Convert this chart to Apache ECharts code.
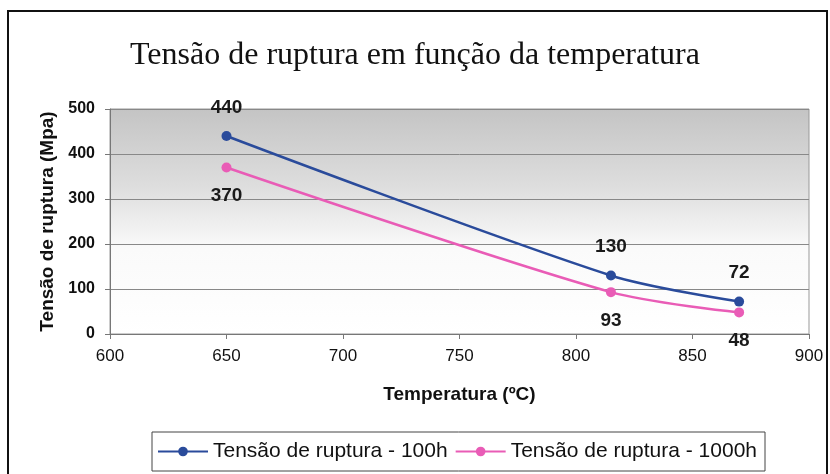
<!DOCTYPE html>
<html>
<head>
<meta charset="utf-8">
<script src="https://cdn.jsdelivr.net/npm/echarts@6/dist/echarts.min.js"></script>
<style>
    html, body { margin: 0; padding: 0; background: #fff; }
</style>
</head>
<body>
<div id="main" style="width: 830px;height:474px;"></div>
<script type="text/javascript">
    // dados
    var temperaturas = [650, 815, 870];
    var tensao100h = [440, 130, 72];
    var tensao1000h = [370, 93, 48];
    var nomes = ['Tensão de ruptura - 100h', 'Tensão de ruptura - 1000h'];

    function pares(xs, ys) {
        return xs.map(function (x, i) { return [x, ys[i]]; });
    }

    var myChart = echarts.init(document.getElementById('main'));

    var fonte = 'Liberation Sans, Arial, sans-serif';

    var labelStyle = {
        show: true,
        fontFamily: fonte,
        fontSize: 19,
        fontWeight: 'bold',
        color: '#1a1a1a',
        distance: 14
    };

    var option = {
        animation: false,
        backgroundColor: '#fff',
        title: {
            text: 'Tensão de ruptura em função da temperatura',
            left: 'center',
            top: 35,
            textStyle: {
                fontFamily: 'Liberation Serif, Times New Roman, serif',
                fontSize: 32,
                fontWeight: 'normal',
                color: '#111'
            }
        },
        graphic: [{
            type: 'rect',
            shape: { x: 8, y: 11, width: 819, height: 470 },
            style: { fill: 'none', stroke: '#111', lineWidth: 2 },
            silent: true
        }],
        grid: {
            left: 110,
            right: 21,
            top: 109,
            bottom: 140,
            show: true,
            borderColor: '#999',
            borderWidth: 1,
            backgroundColor: {
                type: 'linear', x: 0, y: 0, x2: 0, y2: 1,
                colorStops: [
                    { offset: 0, color: '#c4c4c4' },
                    { offset: 0.35, color: '#dedede' },
                    { offset: 0.62, color: '#fafafa' },
                    { offset: 1, color: '#ffffff' }
                ]
            }
        },
        legend: {
            data: nomes,
            left: 152,
            top: 432,
            padding: [9, 8, 9, 5],
            itemGap: 7,
            itemWidth: 50,
            itemHeight: 12,
            borderColor: '#444',
            borderWidth: 1,
            textStyle: {
                fontFamily: fonte,
                fontSize: 21,
                color: '#111'
            }
        },
        xAxis: {
            type: 'value',
            min: 600,
            max: 900,
            interval: 50,
            name: 'Temperatura (ºC)',
            nameLocation: 'middle',
            nameGap: 51,
            nameTextStyle: {
                fontFamily: fonte,
                fontSize: 19,
                fontWeight: 'bold',
                color: '#111'
            },
            axisLine: { lineStyle: { color: '#777', width: 1 } },
            axisTick: { show: true, length: 5, inside: false, lineStyle: { color: '#777' } },
            axisLabel: {
                margin: 14,
                fontFamily: fonte,
                fontSize: 17,
                color: '#111'
            },
            splitLine: { show: false }
        },
        yAxis: {
            type: 'value',
            min: 0,
            max: 500,
            interval: 100,
            name: 'Tensão de ruptura (Mpa)',
            nameLocation: 'middle',
            nameGap: 53,
            nameTextStyle: {
                fontFamily: fonte,
                fontSize: 19,
                fontWeight: 'bold',
                color: '#111'
            },
            axisLine: { show: true, lineStyle: { color: '#777', width: 1 } },
            axisTick: { show: true, length: 5, lineStyle: { color: '#777' } },
            axisLabel: {
                margin: 15,
                fontFamily: fonte,
                fontSize: 16,
                fontWeight: 'bold',
                color: '#111'
            },
            splitLine: { show: true, lineStyle: { color: '#888', width: 1 } }
        },
        series: [
            {
                name: nomes[0],
                type: 'line',
                smooth: 0.3,
                data: pares(temperaturas, tensao100h),
                symbol: 'circle',
                symbolSize: 10,
                itemStyle: { color: '#2a4b9b' },
                lineStyle: { color: '#2a4b9b', width: 2.5 },
                label: Object.assign({ position: 'top', formatter: function (p) { return p.value[1]; } }, labelStyle)
            },
            {
                name: nomes[1],
                type: 'line',
                smooth: 0.3,
                data: pares(temperaturas, tensao1000h),
                symbol: 'circle',
                symbolSize: 10,
                itemStyle: { color: '#e95cb6' },
                lineStyle: { color: '#e95cb6', width: 2.5 },
                label: Object.assign({ position: 'bottom', formatter: function (p) { return p.value[1]; } }, labelStyle)
            }
        ]
    };

    myChart.setOption(option);
</script>
</body>
</html>
